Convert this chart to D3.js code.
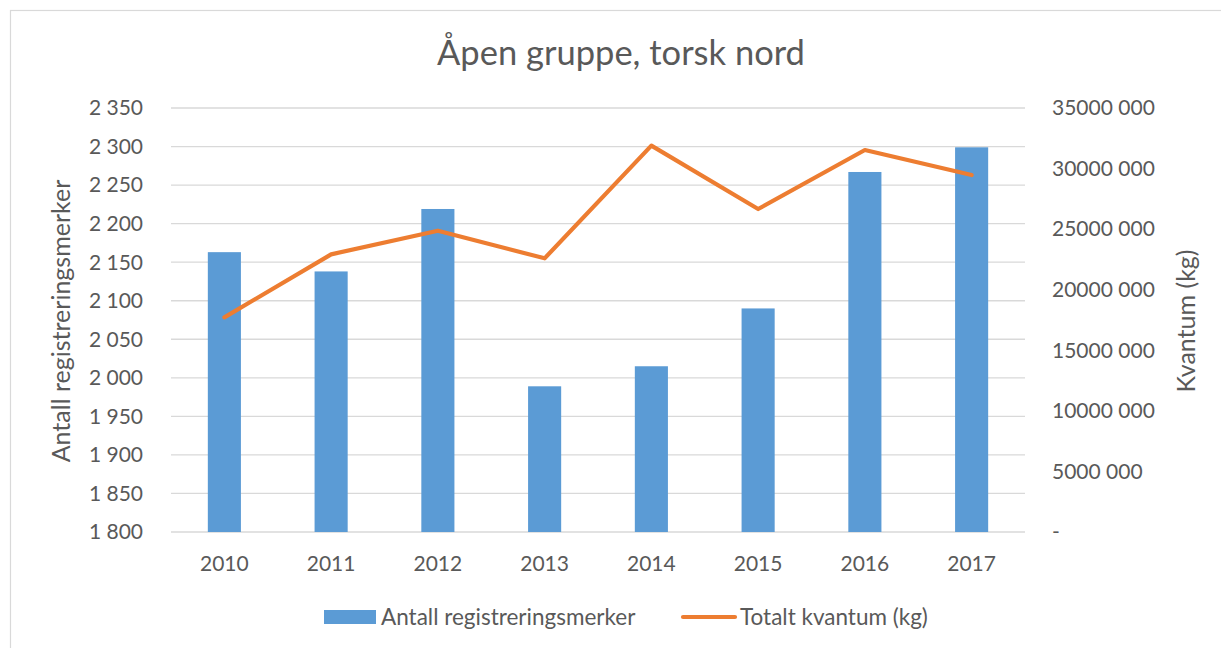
<!DOCTYPE html>
<html><head><meta charset="utf-8">
<script src="https://cdn.jsdelivr.net/npm/d3@7"></script>
<style>body{margin:0;background:#fff;} svg{display:block;font-family:Lato,"Open Sans",sans-serif;}</style>
</head><body>
<svg id="c" width="1221" height="648"></svg>
<script>
const years = ["2010","2011","2012","2013","2014","2015","2016","2017"];
const antall = [2163, 2138, 2219, 1989, 2015, 2090, 2267, 2299];
const kvantum = [17720000, 22920000, 24870000, 22590000, 31890000, 26660000, 31530000, 29470000];
const leftTicks = [1800,1850,1900,1950,2000,2050,2100,2150,2200,2250,2300,2350];
const leftTickLabels = ["1 800","1 850","1 900","1 950","2 000","2 050","2 100","2 150","2 200","2 250","2 300","2 350"];
const rightTicks = [0,5000000,10000000,15000000,20000000,25000000,30000000,35000000];
const rightTickLabels = ["-","5000 000","10000 000","15000 000","20000 000","25000 000","30000 000","35000 000"];

const svg = d3.select("#c");
const txt = "#595959";
svg.append("rect").attr("x",10.5).attr("y",10.5).attr("width",1240).attr("height",660)
  .attr("fill","#fff").attr("stroke","#D9D9D9").attr("stroke-width",1.2);

const L=171, R=1025, T=108, B=532;
const x = d3.scaleBand().domain(years).range([L,R]).paddingInner(0.69).paddingOuter(0.345);
const yL = d3.scaleLinear().domain([1800,2350]).range([B,T]);
const yR = d3.scaleLinear().domain([0,35000000]).range([B,T]);

// gridlines
svg.append("g").selectAll("line").data(leftTicks).join("line")
  .attr("x1",L).attr("x2",R).attr("y1",d=>yL(d)).attr("y2",d=>yL(d))
  .attr("stroke","#D9D9D9").attr("stroke-width",1.3);

// bars
svg.append("g").selectAll("rect").data(years).join("rect")
  .attr("x",d=>x(d)).attr("width",x.bandwidth())
  .attr("y",(d,i)=>yL(antall[i])).attr("height",(d,i)=>B-yL(antall[i]))
  .attr("fill","#5B9BD5");

// line
const line = d3.line().x((d,i)=>x(years[i])+x.bandwidth()/2).y(d=>yR(d));
svg.append("path").datum(kvantum).attr("d",line).attr("fill","none")
  .attr("stroke","#ED7D31").attr("stroke-width",4.2).attr("stroke-linecap","round").attr("stroke-linejoin","round");

// left axis labels
svg.append("g").selectAll("text").data(leftTicks).join("text")
  .attr("x",143).attr("y",d=>yL(d)).attr("dy","0.35em").attr("text-anchor","end")
  .attr("fill",txt).attr("font-size",21).text((d,i)=>leftTickLabels[i]);
// right axis labels
svg.append("g").selectAll("text").data(rightTicks).join("text")
  .attr("x",1052).attr("y",d=>yR(d)).attr("dy","0.35em").attr("text-anchor","start")
  .attr("fill",txt).attr("font-size",21).text((d,i)=>rightTickLabels[i]);
// x labels
svg.append("g").selectAll("text").data(years).join("text")
  .attr("x",d=>x(d)+x.bandwidth()/2).attr("y",571).attr("text-anchor","middle")
  .attr("fill",txt).attr("font-size",21).text(d=>d);

// title
svg.append("text").attr("x",621).attr("y",65).attr("text-anchor","middle")
  .attr("fill",txt).attr("font-size",34.5).text("Åpen gruppe, torsk nord");

// axis titles
svg.append("text").attr("transform","translate(70,321) rotate(-90)").attr("text-anchor","middle")
  .attr("fill",txt).attr("font-size",25).text("Antall registreringsmerker");
svg.append("text").attr("transform","translate(1195,321) rotate(-90)").attr("text-anchor","middle")
  .attr("fill",txt).attr("font-size",25).text("Kvantum (kg)");

// legend
svg.append("rect").attr("x",324).attr("y",610).attr("width",52).attr("height",14).attr("fill","#5B9BD5");
svg.append("text").attr("x",381).attr("y",625).attr("fill",txt).attr("font-size",22.5).text("Antall registreringsmerker");
svg.append("line").attr("x1",683).attr("x2",735).attr("y1",617).attr("y2",617)
  .attr("stroke","#ED7D31").attr("stroke-width",4.2).attr("stroke-linecap","round");
svg.append("text").attr("x",740).attr("y",625).attr("fill",txt).attr("font-size",22.5).text("Totalt kvantum (kg)");
</script>
</body></html>
